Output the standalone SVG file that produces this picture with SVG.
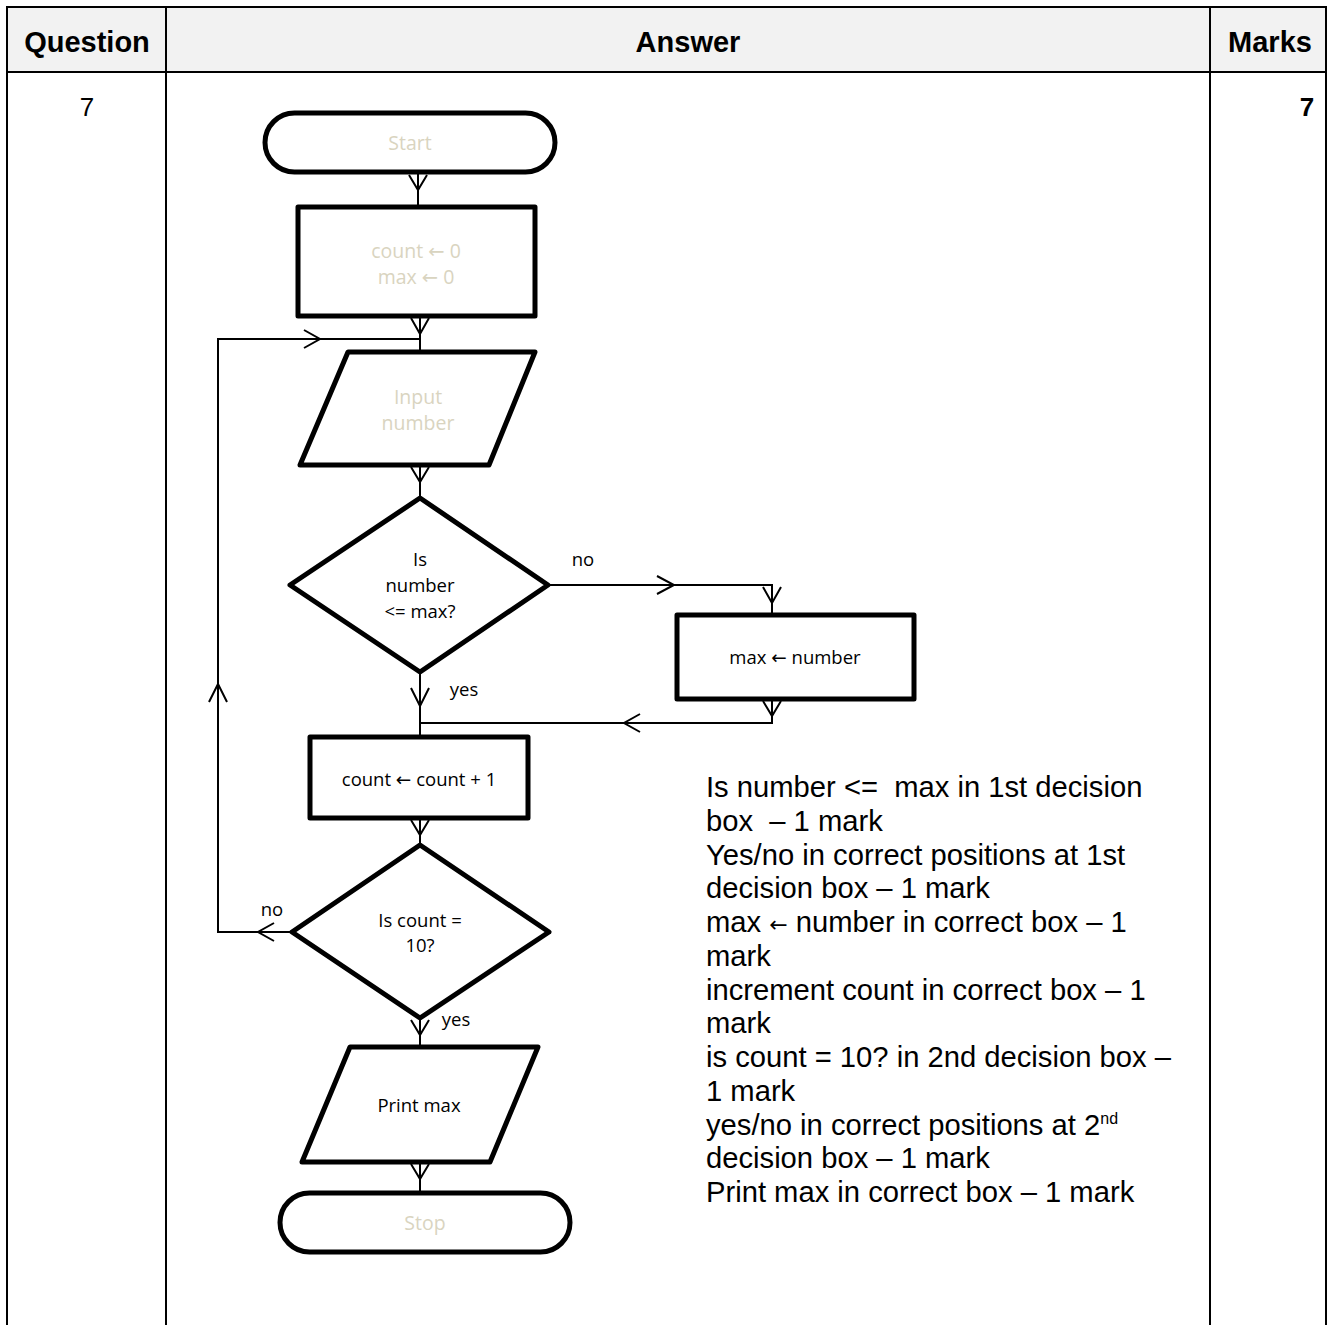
<svg xmlns="http://www.w3.org/2000/svg" width="1334" height="1325" viewBox="0 0 1334 1325">
<style>
.hdr{font-family:"Liberation Sans",Arial,sans-serif;font-weight:bold;font-size:29px;fill:#000;text-anchor:middle}
.cell{font-family:"Liberation Sans",Arial,sans-serif;font-size:26px;fill:#000;text-anchor:middle}
.node{fill:#fff;stroke:#000;stroke-width:5;stroke-linejoin:round}
.ft{font-family:"Open Sans","Noto Sans",sans-serif;font-size:18.5px;fill:#000;text-anchor:middle}
.fl{font-family:"Open Sans","Noto Sans",sans-serif;font-size:19.5px;fill:#d9d4c0;text-anchor:middle}
.ar{font-family:"DejaVu Sans",sans-serif}
.con{fill:none;stroke:#000;stroke-width:2}
.ah{fill:none;stroke:#000;stroke-width:2}
.mk{font-family:"Liberation Sans",Arial,sans-serif;font-size:29.2px;fill:#000;white-space:pre}
</style>
<rect width="1334" height="1325" fill="#fff"/>
<g id="table">
<rect x="7" y="7" width="1319" height="65" fill="#f2f2f2"/>
<path d="M7 1325V7H1326V1325M166 7V1325M1210 7V1325M7 72H1326" fill="none" stroke="#000" stroke-width="2"/>
<text class="hdr" x="87" y="52">Question</text>
<text class="hdr" x="688" y="52">Answer</text>
<text class="hdr" x="1270" y="52">Marks</text>
<text class="cell" x="87" y="116">7</text>
<text class="cell" x="1307" y="116" font-weight="bold">7</text>
</g>
<g id="connectors">
<path class="con" d="M418 172V207M420 316V352M420 465V498"/>
<path class="ah" d="M409 175L418 190L427 175M411 318L420 334L429 318M411 467L420 482L429 467"/>
<path class="con" d="M420 339H218V932H292"/>
<path class="ah" d="M304 330L320 339L304 348M209 702L218 684L227 702M274 923L258 932L274 941"/>
<path class="con" d="M548 585H772V615"/>
<path class="ah" d="M657 576L674 585L657 594M763 587L772 603L781 587"/>
<path class="con" d="M772 699V723H420"/>
<path class="ah" d="M763 701L772 716L781 701M640 714L624 723L640 732"/>
<path class="con" d="M420 672V737M420 818V845M420 1018V1047M420 1162V1193"/>
<path class="ah" d="M411 688L420 706L429 688M411 820L420 835L429 820M411 1020L420 1035L429 1020M411 1164L420 1179L429 1164"/>
</g>
<g id="start">
<rect class="node" x="265" y="113" width="290" height="59" rx="29.5"/>
<text class="fl" x="410" y="150">Start</text>
</g>
<g id="init">
<rect class="node" x="298" y="207" width="237" height="109"/>
<text class="fl" x="416" y="258">count <tspan class="ar">←</tspan> 0</text>
<text class="fl" x="416" y="284">max <tspan class="ar">←</tspan> 0</text>
</g>
<g id="input">
<polygon class="node" points="348,352 535,352 489,465 300,465"/>
<text class="fl" x="418" y="404">Input</text>
<text class="fl" x="418" y="430">number</text>
</g>
<g id="decision1">
<polygon class="node" points="420,498 548,585 420,672 290,585"/>
<text class="ft" x="420" y="566">Is</text>
<text class="ft" x="420" y="592">number</text>
<text class="ft" x="420" y="618">&lt;= max?</text>
<text class="ft" x="583" y="566">no</text>
<text class="ft" x="464" y="696">yes</text>
</g>
<g id="setmax">
<rect class="node" x="677" y="615" width="237" height="84"/>
<text class="ft" x="795" y="664">max <tspan class="ar">←</tspan> number</text>
</g>
<g id="increment">
<rect class="node" x="310" y="737" width="218" height="81"/>
<text class="ft" x="419" y="786">count <tspan class="ar">←</tspan> count + 1</text>
</g>
<g id="decision2">
<polygon class="node" points="420,845 549,932 420,1018 292,932"/>
<text class="ft" x="420" y="927">Is count =</text>
<text class="ft" x="420" y="952">10?</text>
<text class="ft" x="272" y="916">no</text>
<text class="ft" x="456" y="1026">yes</text>
</g>
<g id="print">
<polygon class="node" points="350,1047 538,1047 490,1162 302,1162"/>
<text class="ft" x="419" y="1112">Print max</text>
</g>
<g id="stop">
<rect class="node" x="280" y="1193" width="290" height="59" rx="29.5"/>
<text class="fl" x="425" y="1230">Stop</text>
</g>
<g id="marks">
<text class="mk" x="706" y="797" xml:space="preserve">Is number &lt;=  max in 1st decision</text>
<text class="mk" x="706" y="831" xml:space="preserve">box  – 1 mark</text>
<text class="mk" x="706" y="865">Yes/no in correct positions at 1st</text>
<text class="mk" x="706" y="898">decision box – 1 mark</text>
<text class="mk" x="706" y="932">max <tspan class="ar" font-size="22">←</tspan> number in correct box – 1</text>
<text class="mk" x="706" y="966">mark</text>
<text class="mk" x="706" y="1000">increment count in correct box – 1</text>
<text class="mk" x="706" y="1033">mark</text>
<text class="mk" x="706" y="1067">is count = 10? in 2nd decision box –</text>
<text class="mk" x="706" y="1101">1 mark</text>
<text class="mk" x="706" y="1135">yes/no in correct positions at 2<tspan font-size="16" dy="-11">nd</tspan></text>
<text class="mk" x="706" y="1168">decision box – 1 mark</text>
<text class="mk" x="706" y="1202">Print max in correct box – 1 mark</text>
</g>
</svg>
